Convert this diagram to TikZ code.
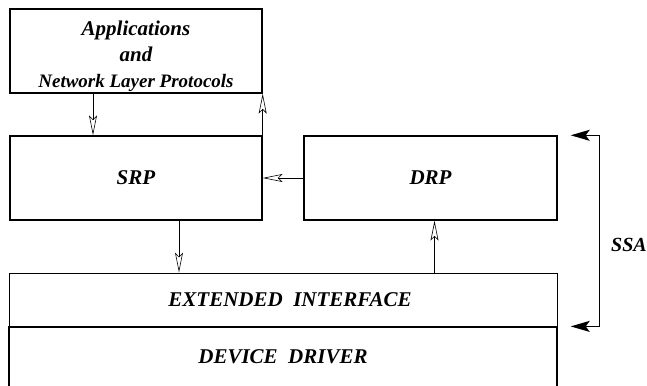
\documentclass[tikz,border=0pt]{standalone}
\usepackage{fontspec}
\setmainfont{Liberation Serif}
\usetikzlibrary{positioning, arrows.meta}

\tikzset{
  blk/.style={rectangle, draw=black, line width=1.4pt, inner sep=0pt, font=\bfseries\itshape\fontsize{21}{25}\selectfont},
  oa/.style={-{Stealth[open, length=20pt, width=8pt, inset=4pt]}, line width=0.6pt},
  sa/.style={{Stealth[length=19pt, width=11pt, inset=4pt]}-{Stealth[length=19pt, width=11pt, inset=4pt]}, line width=1.3pt}
}

\begin{document}
\begin{tikzpicture}[x=1pt, y=-1pt]
\useasboundingbox (0,0) rectangle (647,385);
\node[blk, minimum width=252pt, minimum height=84pt] (app) at (136,51) {};
\node[font=\bfseries\itshape\fontsize{21}{26}\selectfont, align=center, inner sep=0pt] (apptxt) at (136,56) {Applications\\and\\{\fontsize{19}{26}\selectfont Network Layer Protocols}};
\node[blk, minimum width=252pt, minimum height=84pt] (srp) at (136,178) {SRP};
\node[blk, minimum width=253pt, minimum height=84pt] (drp) at (430.5,178) {DRP};
\node[blk, line width=0.8pt, minimum width=548pt, minimum height=53pt] (ext) at (283,299.5) {\hspace*{14pt}EXTENDED\ \ INTERFACE};
\node[blk, minimum width=548pt, minimum height=60pt, anchor=north] (dev) at (ext.south) {DEVICE\ \ DRIVER};

\draw[oa] ([xshift=-43pt]app.south) -- ([xshift=-43pt]srp.north);
\draw[oa] (srp.north east) -- (app.south east);
\draw[oa] (drp.west) -- (srp.east);
\draw[oa] ([xshift=43pt]srp.south) -- ([xshift=43pt]srp.south |- ext.north);
\draw[oa] ([xshift=4pt]drp.south |- ext.north) -- ([xshift=4pt]drp.south);

\coordinate (t) at ([xshift=13pt]drp.north east);
\coordinate (b) at (t |- ext.south);
\draw[sa] (t) -- ++(29,0) |- (b);
\node[font=\bfseries\itshape\fontsize{20}{24}\selectfont, anchor=west, inner sep=0pt] (ssa) at (611,245) {SSA};
\end{tikzpicture}
\end{document}
